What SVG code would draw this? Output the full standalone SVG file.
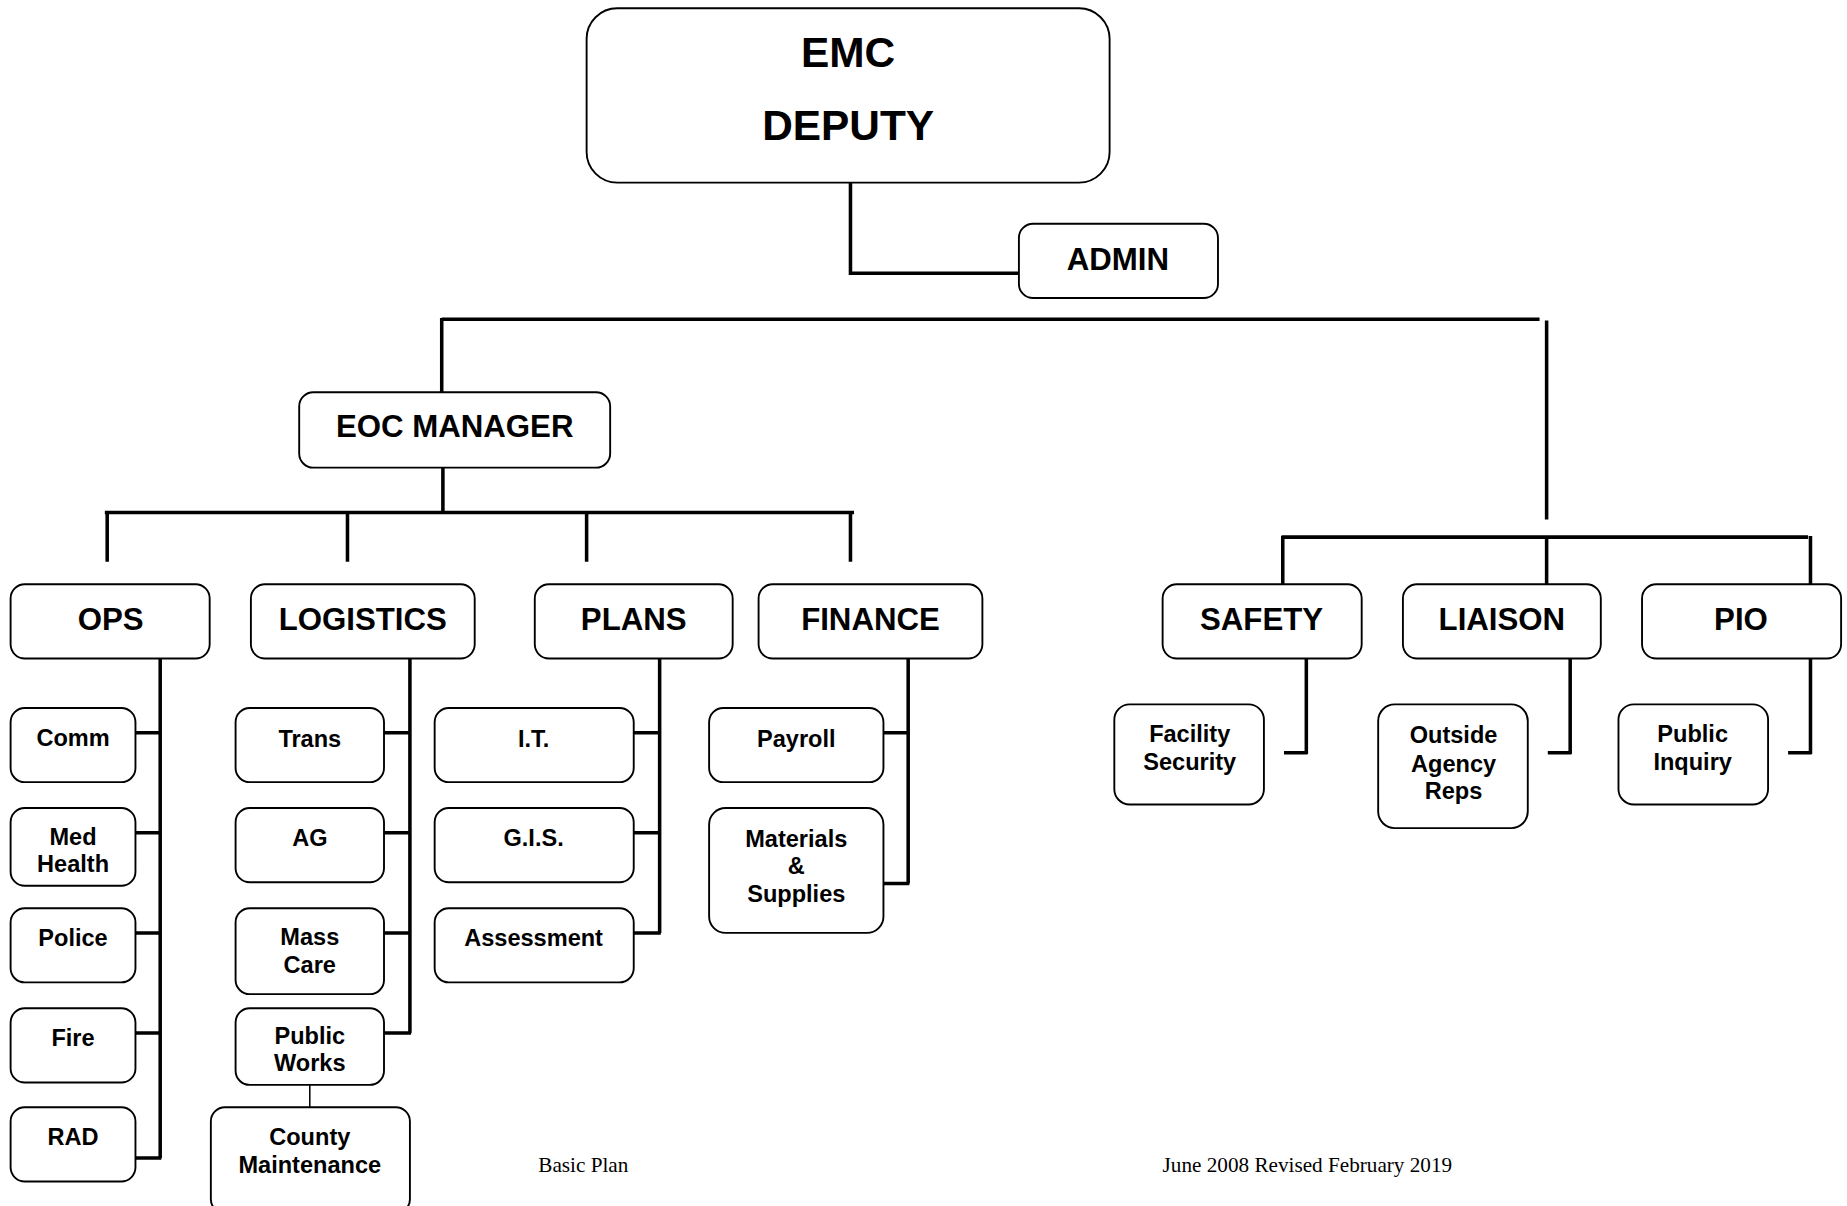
<svg xmlns="http://www.w3.org/2000/svg" width="1847" height="1206" viewBox="0 0 1847 1206">
<style>
.box{fill:#fff;stroke:#000;stroke-width:1.6}
.c{fill:none;stroke:#000;stroke-width:3;stroke-linecap:butt}
.thin{fill:none;stroke:#000;stroke-width:1.3}
text{font-family:"Liberation Sans",Arial,sans-serif;font-weight:bold;text-anchor:middle;fill:#000}
.t1{font-size:36px}
.t2{font-size:26.5px}
.t3{font-size:20px}
.ft{font-family:"Liberation Serif","Times New Roman",serif;font-weight:normal;font-size:18px;text-anchor:start}
</style>
<rect width="1847" height="1206" fill="#fff"/>
<g transform="scale(1.17793)">
<g id="connectors">
<path class="c" d="M722,150V232H865"/>
<path class="c" d="M375,271H1307M375,270V333M1313,272V441"/>
<path class="c" d="M376,397V435M89,435H725M91,435V477M295,435V477M498,435V477M722,435V477"/>
<path class="c" d="M1088,456H1535M1089,455V496M1313,455V496M1537,455V496"/>
<path class="c" d="M136,559V983M115,622H136M115,707H136M115,792H136M115,877H136M115,983H137"/>
<path class="c" d="M348,559V877M326,622H348M326,707H348M326,792H348M326,877H349"/>
<path class="thin" d="M263,921V940"/>
<path class="c" d="M560,559V792M538,622H560M538,707H560M538,792H561"/>
<path class="c" d="M771,559V750M750,622H771M750,750H772"/>
<path class="c" d="M1109,559V640M1090,639H1110"/>
<path class="c" d="M1333,557V640M1314,639H1334"/>
<path class="c" d="M1537,557V640M1518,639H1538"/>
</g>
<g id="emc"><rect class="box" x="498" y="7" width="444" height="148" rx="26"/><text class="t1" x="720" y="57">EMC</text><text class="t1" x="720" y="119">DEPUTY</text></g>
<g id="admin"><rect class="box" x="865" y="190" width="169" height="63" rx="12"/><text class="t2" x="949" y="229">ADMIN</text></g>
<g id="eoc"><rect class="box" x="254" y="333" width="264" height="64" rx="12"/><text class="t2" x="386" y="371">EOC MANAGER</text></g>
<g id="ops"><rect class="box" x="9" y="496" width="169" height="63" rx="12"/><text class="t2" x="94" y="535">OPS</text></g>
<g id="logistics"><rect class="box" x="213" y="496" width="190" height="63" rx="12"/><text class="t2" x="308" y="535">LOGISTICS</text></g>
<g id="plans"><rect class="box" x="454" y="496" width="168" height="63" rx="12"/><text class="t2" x="538" y="535">PLANS</text></g>
<g id="finance"><rect class="box" x="644" y="496" width="190" height="63" rx="12"/><text class="t2" x="739" y="535">FINANCE</text></g>
<g id="safety"><rect class="box" x="987" y="496" width="169" height="63" rx="12"/><text class="t2" x="1071" y="535">SAFETY</text></g>
<g id="liaison"><rect class="box" x="1191" y="496" width="168" height="63" rx="12"/><text class="t2" x="1275" y="535">LIAISON</text></g>
<g id="pio"><rect class="box" x="1394" y="496" width="169" height="63" rx="12"/><text class="t2" x="1478" y="535">PIO</text></g>
<g id="comm"><rect class="box" x="9" y="601" width="106" height="63" rx="12"/><text class="t3" x="62" y="633">Comm</text></g>
<g id="medhealth"><rect class="box" x="9" y="686" width="106" height="66" rx="12"/><text class="t3" x="62" y="717">Med</text><text class="t3" x="62" y="740">Health</text></g>
<g id="police"><rect class="box" x="9" y="771" width="106" height="63" rx="12"/><text class="t3" x="62" y="803">Police</text></g>
<g id="fire"><rect class="box" x="9" y="856" width="106" height="63" rx="12"/><text class="t3" x="62" y="888">Fire</text></g>
<g id="rad"><rect class="box" x="9" y="940" width="106" height="63" rx="12"/><text class="t3" x="62" y="972">RAD</text></g>
<g id="trans"><rect class="box" x="200" y="601" width="126" height="63" rx="12"/><text class="t3" x="263" y="634">Trans</text></g>
<g id="ag"><rect class="box" x="200" y="686" width="126" height="63" rx="12"/><text class="t3" x="263" y="718">AG</text></g>
<g id="masscare"><rect class="box" x="200" y="771" width="126" height="73" rx="12"/><text class="t3" x="263" y="802">Mass</text><text class="t3" x="263" y="826">Care</text></g>
<g id="publicworks"><rect class="box" x="200" y="856" width="126" height="65" rx="12"/><text class="t3" x="263" y="886">Public</text><text class="t3" x="263" y="909">Works</text></g>
<g id="county"><rect class="box" x="179" y="940" width="169" height="90" rx="12"/><text class="t3" x="263" y="972">County</text><text class="t3" x="263" y="996">Maintenance</text></g>
<g id="it"><rect class="box" x="369" y="601" width="169" height="63" rx="12"/><text class="t3" x="453" y="634">I.T.</text></g>
<g id="gis"><rect class="box" x="369" y="686" width="169" height="63" rx="12"/><text class="t3" x="453" y="718">G.I.S.</text></g>
<g id="assessment"><rect class="box" x="369" y="771" width="169" height="63" rx="12"/><text class="t3" x="453" y="803">Assessment</text></g>
<g id="payroll"><rect class="box" x="602" y="601" width="148" height="63" rx="12"/><text class="t3" x="676" y="634">Payroll</text></g>
<g id="materials"><rect class="box" x="602" y="686" width="148" height="106" rx="14"/><text class="t3" x="676" y="719">Materials</text><text class="t3" x="676" y="742">&amp;</text><text class="t3" x="676" y="766">Supplies</text></g>
<g id="facility"><rect class="box" x="946" y="598" width="127" height="85" rx="13"/><text class="t3" x="1010" y="630">Facility</text><text class="t3" x="1010" y="654">Security</text></g>
<g id="outside"><rect class="box" x="1170" y="598" width="127" height="105" rx="14"/><text class="t3" x="1234" y="631">Outside</text><text class="t3" x="1234" y="655">Agency</text><text class="t3" x="1234" y="678">Reps</text></g>
<g id="inquiry"><rect class="box" x="1374" y="598" width="127" height="85" rx="13"/><text class="t3" x="1437" y="630">Public</text><text class="t3" x="1437" y="654">Inquiry</text></g>
<g id="footer"><text class="ft" x="457" y="995">Basic Plan</text><text class="ft" x="987" y="995">June 2008 Revised February 2019</text></g>
</g>
</svg>
